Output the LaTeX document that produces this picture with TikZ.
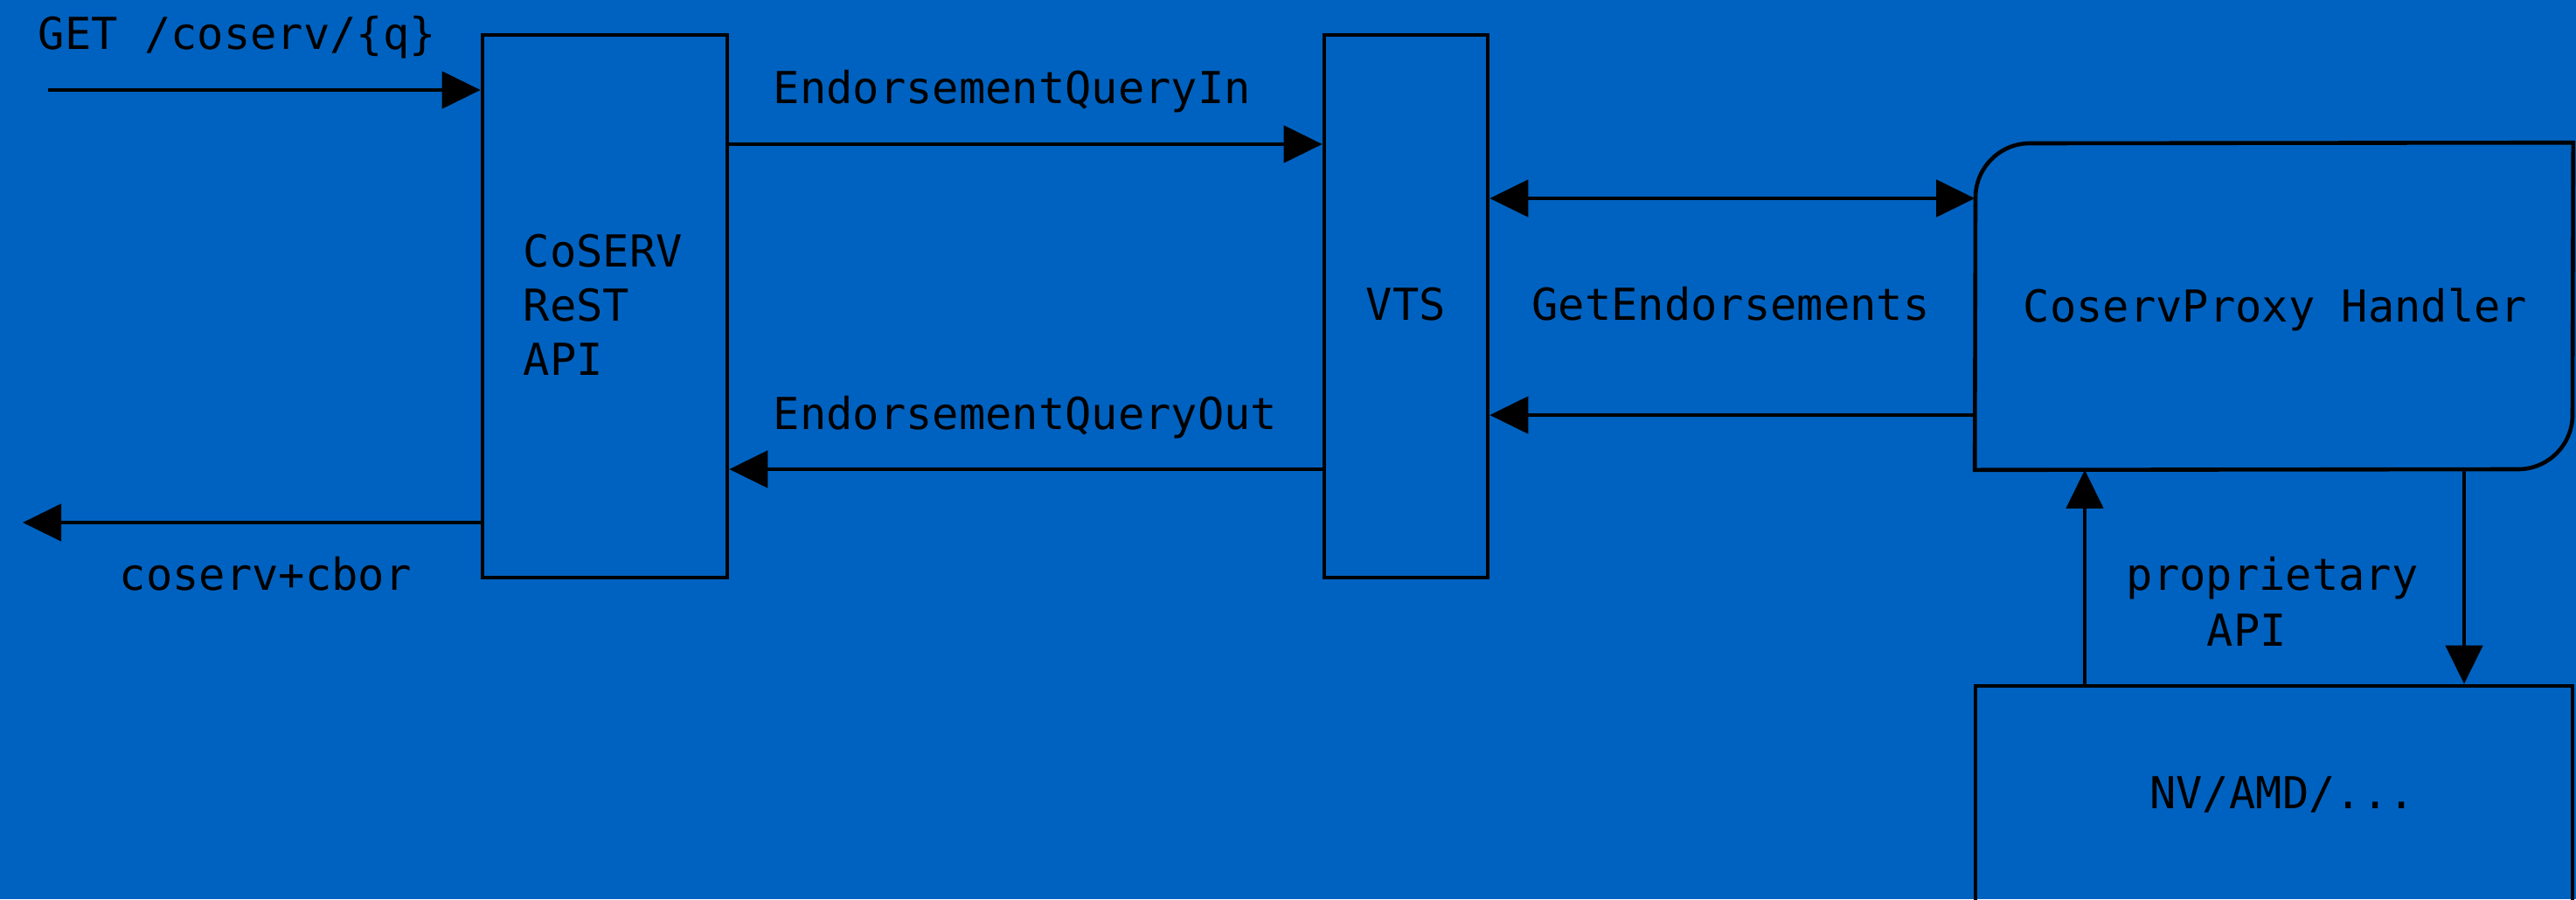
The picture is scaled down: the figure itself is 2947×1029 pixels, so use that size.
\documentclass[tikz,border=0pt]{standalone}
\usepackage{fontspec}
\newfontfamily\dmono{DejaVu Sans Mono}
\usetikzlibrary{arrows.meta}
\definecolor{bgblue}{RGB}{0,98,192}
\begin{document}
\begin{tikzpicture}[x=0.25pt,y=-0.25pt,
  box/.style={draw=black,line width=1.15pt,rectangle,inner sep=0pt,fill=none},
  lbl/.style={inner sep=0pt,font=\dmono\fontsize{12.6}{15}\selectfont,text=black},
  arr/.style={draw=black,line width=1.15pt,-{Triangle[length=11pt,width=10.5pt]}},
  darr/.style={draw=black,line width=1.15pt,{Triangle[length=11pt,width=10.5pt]}-{Triangle[length=11pt,width=10.5pt]}}]
\fill[bgblue] (0,0) rectangle (2947,1029);
\useasboundingbox (0,0) rectangle (2947,1029);
\clip (0,0) rectangle (2947,1029);

% boxes
\node[box,minimum width=70pt,minimum height=155.25pt] (coserv) at (692,350.5) {};
\node[box,minimum width=46.75pt,minimum height=155.25pt] (vts) at (1608.5,350.5) {};
\node[inner sep=0pt,minimum width=170.75pt,minimum height=93.25pt] (handler) at (2601.5,350.5) {};
\draw[line width=1.15pt] (handler.south west) -- (2260,226)
  .. controls (2260,192) and (2288,164) .. (2322,164)
  -- (handler.north east) -- (2943,475)
  .. controls (2943,509) and (2915,537) .. (2881,537) -- cycle;
\node[box,minimum width=170.75pt,minimum height=70pt] (nv) at (2601.5,925) {};

% labels
\node[lbl,anchor=base west] (tget) at (43,56) {GET /coserv/\{q\}};
\node[lbl,anchor=base west] (tcbor) at (136,675) {coserv+cbor};
\node[lbl,anchor=base west] (tc1) at (598,305) {CoSERV};
\node[lbl,anchor=base west] (tc2) at (598,367) {ReST};
\node[lbl,anchor=base west] (tc3) at (598,429) {API};
\node[lbl,anchor=base west] (tin) at (884,118) {EndorsementQueryIn};
\node[lbl,anchor=base west] (tout) at (884,491) {EndorsementQueryOut};
\node[lbl,anchor=base] (tvts) at (1608.5,366) {VTS};
\node[lbl,anchor=base] (tget2) at (1980,366) {GetEndorsements};
\node[lbl,anchor=base] (thandler) at (2603,368) {CoservProxy Handler};
\node[lbl,anchor=base west] (tprop) at (2432,675) {proprietary};
\node[lbl,anchor=base west] (tapi) at (2524,739) {API};
\node[lbl,anchor=base] (tnv) at (2611,925) {NV/AMD/...};

% helper coordinates
\coordinate (getstart) at (55,103);
\coordinate (cborend) at (26,598);
\coordinate (yin) at (0,165);
\coordinate (yout) at (0,537);
\coordinate (ydbl) at (0,227);
\coordinate (yback) at (0,475);
\coordinate (xup) at (2385,0);
\coordinate (xdown) at (2819,0);

% connectors
\draw[arr] (getstart) -- (coserv.west |- getstart);
\draw[arr] (coserv.west |- cborend) -- (cborend);
\draw[arr] (coserv.east |- yin) -- (vts.west |- yin);
\draw[arr] (vts.west |- yout) -- (coserv.east |- yout);
\draw[darr] (vts.east |- ydbl) -- (handler.west |- ydbl);
\draw[arr] (handler.west |- yback) -- (vts.east |- yback);
\draw[arr] (nv.north -| xup) -- (handler.south -| xup);
\draw[arr] (handler.south -| xdown) -- (nv.north -| xdown);
\end{tikzpicture}
\end{document}
